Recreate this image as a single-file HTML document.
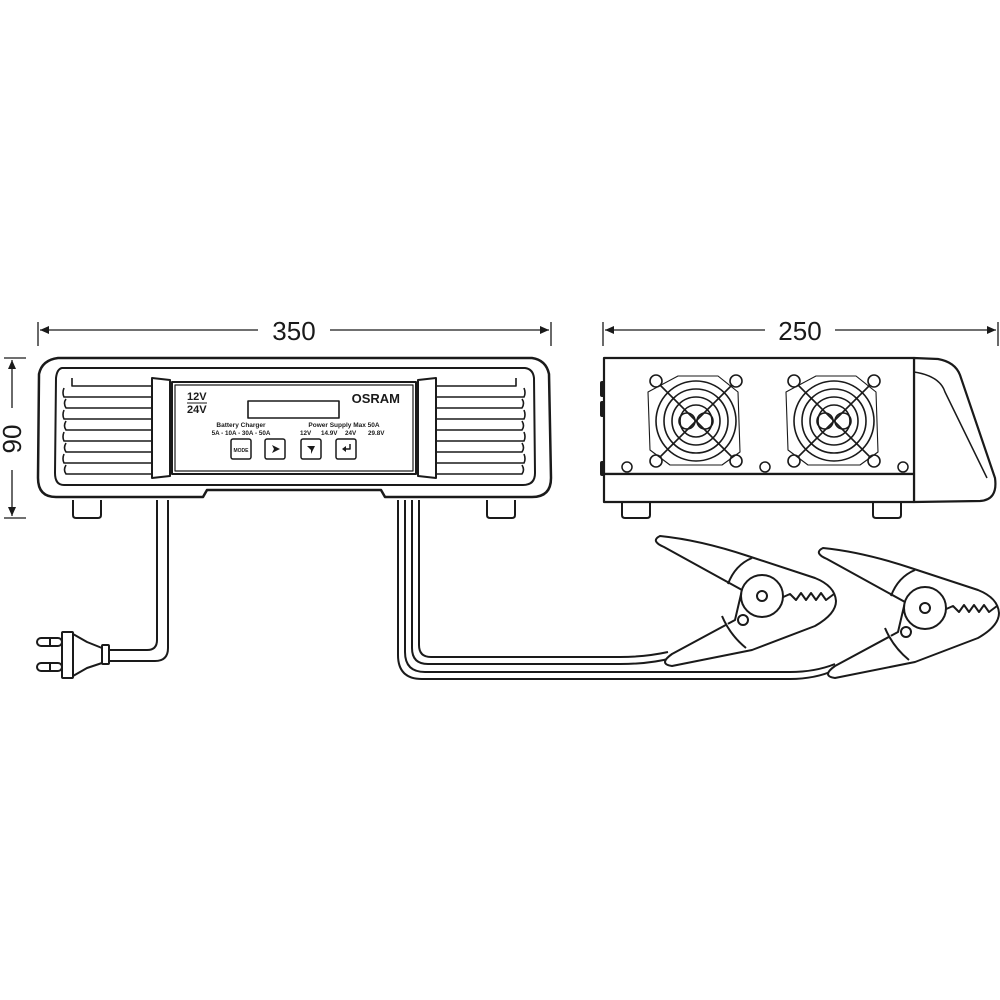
<!DOCTYPE html>
<html><head><meta charset="utf-8"><style>
html,body{margin:0;padding:0;background:#fff;}
svg{display:block;}
text{font-family:"Liberation Sans",sans-serif;fill:#1a1a1a;}
.n{font-family:"Liberation Sans Narrow","Liberation Sans",sans-serif;}
</style></head><body>
<svg width="1000" height="1000" viewBox="0 0 1000 1000" fill="none" stroke="#1a1a1a" stroke-width="2" stroke-linejoin="round">
<!-- dimension lines -->
<g stroke-width="1.3">
<line x1="38" y1="322" x2="38" y2="346"/><line x1="551" y1="322" x2="551" y2="346"/>
<line x1="40" y1="330" x2="258" y2="330"/><line x1="330" y1="330" x2="549" y2="330"/>
<line x1="603" y1="322" x2="603" y2="346"/><line x1="998" y1="322" x2="998" y2="346"/>
<line x1="605" y1="330" x2="765" y2="330"/><line x1="835" y1="330" x2="996" y2="330"/>
<line x1="4" y1="358" x2="26" y2="358"/><line x1="4" y1="518" x2="26" y2="518"/>
<line x1="12" y1="360" x2="12" y2="408"/><line x1="12" y1="470" x2="12" y2="516"/>
</g>
<g fill="#1a1a1a" stroke="none">
<path d="M40 330 l9 -4 v8z"/><path d="M549 330 l-9 -4 v8z"/>
<path d="M605 330 l9 -4 v8z"/><path d="M996 330 l-9 -4 v8z"/>
<path d="M12 360 l-4 9 h8z"/><path d="M12 516 l-4 -9 h8z"/>
</g>
<text class="n" x="294" y="340" font-size="26" text-anchor="middle" stroke="none">350</text>
<text class="n" x="800" y="340" font-size="26" text-anchor="middle" stroke="none">250</text>
<text class="n" x="0" y="0" font-size="26" text-anchor="middle" stroke="none" transform="translate(21,439) rotate(-90)">90</text>

<!-- cables from front unit -->
<path d="M157 500 V640 Q157 650 147 650 H109 M168 500 V648 Q168 661 155 661 H109"/>
<path d="M398 500 V655 Q398 679 422 679 H790 Q815 679 835 670"/>
<path d="M405 500 V652 Q405 672 425 672 H790 Q815 672 835 664"/>
<path d="M412 500 V648 Q412 664 428 664 H620 Q650 664 672 658"/>
<path d="M419 500 V645 Q419 657 431 657 H620 Q645 657 668 652"/>

<!-- plug -->
<rect x="62" y="632" width="11" height="46" rx="1"/>
<path d="M73 634 L87 642 L102 648 V663 L87 668 L73 676"/>
<rect x="102" y="645" width="7" height="19" rx="1"/>
<rect x="37" y="638" width="25" height="8" rx="4"/><line x1="50" y1="638" x2="50" y2="646"/>
<rect x="37" y="663" width="25" height="8" rx="4"/><line x1="50" y1="663" x2="50" y2="671"/>

<!-- front unit -->
<path d="M58 358 H532 Q546 360 549 374 L551 478 Q551 497 532 497 H385 L381 490 H207 L203 497 H56 Q38 497 38 478 L39 374 Q42 360 58 358Z" fill="#fff" stroke-width="2.5"/>
<path d="M62 368 H525 Q533 369 534 378 L535 473 Q535 485 523 485 H64 Q55 485 55 473 L56 378 Q57 369 62 368Z"/>
<g stroke-width="1.6">
<path d="M72 378 V386 H152 M64 388 Q62 393 64 397 H152 M66 399 Q63 403 66 408 H152 M64 410 Q62 415 64 419 H152 M66 421 Q63 426 66 430 H152 M64 432 Q62 437 64 441 H152 M66 443 Q63 448 66 452 H152 M64 454 Q62 459 64 463 H152 M66 465 Q63 470 66 474 H152"/>
<path d="M516 378 V386 H436 M524 388 Q526 393 524 397 H436 M522 399 Q525 403 522 408 H436 M524 410 Q526 415 524 419 H436 M522 421 Q525 426 522 430 H436 M524 432 Q526 437 524 441 H436 M522 443 Q525 448 522 452 H436 M524 454 Q526 459 524 463 H436 M522 465 Q525 470 522 474 H436"/>
</g>
<path d="M152 378 L170 380 V476 L152 478Z" fill="#fff"/>
<path d="M436 378 L418 380 V476 L436 478Z" fill="#fff"/>
<rect x="172" y="382" width="244" height="92" fill="#fff"/>
<rect x="175" y="385" width="238" height="86" stroke-width="1.2"/>
<rect x="248" y="401" width="91" height="17" stroke-width="1.6"/>
<g stroke="none">
<text x="187" y="400" font-size="11" font-weight="bold">12V</text>
<line x1="187" y1="403" x2="207" y2="403" stroke="#1a1a1a" stroke-width="1"/>
<text x="187" y="413" font-size="11" font-weight="bold">24V</text>
<text x="400" y="403" font-size="13" font-weight="bold" text-anchor="end">OSRAM</text>
<text x="241" y="427" font-size="6.5" font-weight="bold" text-anchor="middle">Battery Charger</text>
<text x="344" y="427" font-size="6.5" font-weight="bold" text-anchor="middle">Power Supply Max 50A</text>
<text x="241" y="435" font-size="6.3" font-weight="bold" text-anchor="middle">5A  -  10A  -  30A  -  50A</text>
<text x="300" y="435" font-size="6.3" font-weight="bold">12V</text>
<text x="321" y="435" font-size="6.3" font-weight="bold">14.9V</text>
<text x="345" y="435" font-size="6.3" font-weight="bold">24V</text>
<text x="368" y="435" font-size="6.3" font-weight="bold">29.8V</text>
<text x="241" y="452" font-size="5" font-weight="bold" text-anchor="middle">MODE</text>
</g>
<g stroke-width="1.5">
<rect x="231" y="439" width="20" height="20" rx="2"/>
<rect x="265" y="439" width="20" height="20" rx="2"/>
<rect x="301" y="439" width="20" height="20" rx="2"/>
<rect x="336" y="439" width="20" height="20" rx="2"/>
</g>
<g fill="#1a1a1a" stroke="none">
<path d="M272 445 L280 449 L272 453 L274 449Z"/>
<path d="M307 446 L315 446 L311 454 L311 450Z"/>
<path d="M342 449 L346 446 V452Z"/>
</g>
<path d="M345 449 H350 V444" stroke-width="1.5"/>
<path d="M73 500 V515 Q73 518 76 518 H98 Q101 518 101 515 V500"/>
<path d="M487 500 V515 Q487 518 490 518 H512 Q515 518 515 515 V500"/>

<!-- side unit -->
<path d="M914 358 L938 359 Q955 362 960 375 L995 478 Q998 500 980 501 L914 502Z" fill="#fff" stroke-width="2.2"/>
<path d="M914 372 Q940 376 945 392 L987 478" stroke-width="1.5"/>
<rect x="604" y="358" width="310" height="116" fill="#fff" stroke-width="2.2"/>
<rect x="604" y="474" width="310" height="28" fill="#fff" stroke-width="2.2"/>
<g fill="#1a1a1a" stroke="none">
<rect x="600" y="381" width="5" height="16" rx="2"/>
<rect x="600" y="401" width="5" height="16" rx="2"/>
<rect x="600" y="461" width="5" height="15" rx="2"/>
</g>
<path d="M622 503 V515 Q622 518 625 518 H647 Q650 518 650 515 V503"/>
<path d="M873 503 V515 Q873 518 876 518 H898 Q901 518 901 515 V503"/>
<g stroke-width="1.5">
<circle cx="627" cy="467" r="5"/><circle cx="765" cy="467" r="5"/><circle cx="903" cy="467" r="5"/>
</g>
<g id="fan" stroke-width="1.6">
<path d="M678 376 H718 L738 392 L740 452 L722 465 L670 465 L650 450 L648 392Z" stroke-width="1.1"/>
<circle cx="656" cy="381" r="6"/><circle cx="736" cy="381" r="6"/>
<circle cx="656" cy="461" r="6"/><circle cx="736" cy="461" r="6"/>
<circle cx="696" cy="421" r="40"/><circle cx="696" cy="421" r="32"/>
<circle cx="696" cy="421" r="24"/><circle cx="696" cy="421" r="16"/>
<circle cx="687" cy="421" r="8"/><circle cx="705" cy="421" r="8"/>
<line x1="660" y1="385" x2="732" y2="457"/><line x1="732" y1="385" x2="660" y2="457"/>
</g>
<use href="#fan" transform="translate(138,0)"/>

<!-- clamps -->
<g id="clamp" fill="#fff">
<path d="M660 536 Q650 541 664 547 L742 590 L735 620 L672 654 Q658 664 672 666 L752 650 L815 626 Q836 614 836 601 Q835 586 815 578 L748 556 Q700 540 660 536Z"/>
<path d="M752 558 Q735 565 728 584 M722 616 Q730 635 746 648" />
<path d="M781 598 L790 594 L796 600 L801 593 L806 600 L811 593 L816 600 L821 593 L826 600 L834 594"/>
<circle cx="762" cy="596" r="21"/>
<circle cx="762" cy="596" r="5"/>
<circle cx="743" cy="620" r="5"/>
</g>
<use href="#clamp" transform="translate(163,12)"/>
</svg>
</body></html>
